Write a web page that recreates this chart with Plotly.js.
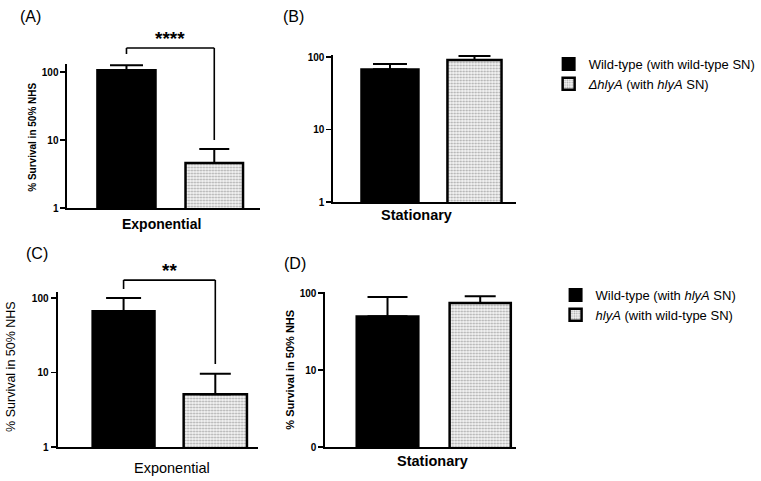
<!DOCTYPE html>
<html>
<head>
<meta charset="utf-8">
<script src="https://cdn.plot.ly/plotly-3.0.1.min.js"></script>
<style>html,body{margin:0;padding:0;background:#fff;}#chart{width:761px;height:481px;}</style>
</head>
<body>
<div id="chart"></div>
<script>
// ---- data ----
const panelLabels = ["(A)", "(B)", "(C)", "(D)"];
const phases = ["Exponential", "Stationary", "Exponential", "Stationary"];
const topGroups = ["Wild-type (with wild-type SN)", "<i>ΔhlyA</i> (with <i>hlyA</i> SN)"];
const bottomGroups = ["Wild-type (with <i>hlyA</i> SN)", "<i>hlyA</i> (with wild-type SN)"];
const solidMeans = [107, 68, 67, 50];
const solidErrTop = [126, 80, 100, 89];
const dottedMeans = [4.6, 91, 5.1, 74];
const dottedErrTop = [7.4, 103, 9.6, 91];
const sigLabels = ["****", "", "**", ""];
const bracketTop = [225, null, 174, null];
const bracketLeftEnd = [184, null, 132, null];
const bracketRightEnd = [10, null, 13, null];
const yTickVals = [1, 10, 100];
const yTickText = [["1", "10", "100"], ["1", "10", "100"], ["1", "10", "100"], ["0", "10", "100"]];
const yTitle = "% Survival in 50% NHS";

// ---- layout geometry (pixels) ----
const W = 761, H = 481;
const FONT = "Arial, 'Liberation Sans', sans-serif";
const geo = [
  {x0: 68, x1: 262, yTop: 64, yBot: 208, decade: 68, xr: [-0.672, 1.52], bw: [0.667, 0.655], cap: [16.5, 15]},
  {x0: 336, x1: 520, yTop: 55, yBot: 202, decade: 72.5, xr: [-0.67, 1.49], bw: [0.68, 0.64], cap: [17, 16]},
  {x0: 58, x1: 260, yTop: 292, yBot: 447, decade: 74.5, xr: [-0.72, 1.465], bw: [0.68, 0.69], cap: [17.5, 15.5]},
  {x0: 328, x1: 520, yTop: 292, yBot: 447, decade: 77, xr: [-0.67, 1.385], bw: [0.67, 0.66], cap: [20, 15.5]}
];
const px = x => x / W;
const py = y => 1 - y / H;

const traces = [];
const legendFont = {family: FONT, size: 13, color: "#000"};
const layout = {
  width: W, height: H,
  margin: {l: 0, r: 0, t: 0, b: 0},
  paper_bgcolor: "#fff", plot_bgcolor: "#fff",
  font: {family: FONT, color: "#000"},
  barmode: "overlay",
  shapes: [], annotations: [],
  legend: {x: px(553), y: py(49), xanchor: "left", yanchor: "top",
           font: legendFont, bgcolor: "rgba(0,0,0,0)", tracegroupgap: 0},
  legend2: {x: px(560), y: py(280), xanchor: "left", yanchor: "top",
            font: legendFont, bgcolor: "rgba(0,0,0,0)", tracegroupgap: 0}
};

const yRanges = [];
geo.forEach((g, i) => {
  const n = i === 0 ? "" : String(i + 1);
  const xa = "x" + n, ya = "y" + n;
  const yr = [0, (g.yBot - g.yTop) / g.decade];
  yRanges.push(yr);
  const names = i < 2 ? topGroups : bottomGroups;
  const legendId = i < 2 ? "legend" : "legend2";
  const showL = (i === 0 || i === 2);
  traces.push({
    type: "bar", x: [0], y: [solidMeans[i]], width: g.bw[0], name: names[0],
    xaxis: xa, yaxis: ya, legend: legendId, showlegend: showL,
    marker: {color: "#000", line: {color: "#000", width: 2}},
    error_y: {type: "data", symmetric: false, array: [solidErrTop[i] - solidMeans[i]], arrayminus: [0],
              color: "#000", thickness: 2, width: g.cap[0]},
    hoverinfo: "skip"
  });
  traces.push({
    type: "bar", x: [1], y: [dottedMeans[i]], width: g.bw[1], name: names[1],
    xaxis: xa, yaxis: ya, legend: legendId, showlegend: showL,
    marker: {color: "#f3f3f3", line: {color: "#000", width: 2.5},
             pattern: {shape: ".", bgcolor: "#f5f5f5", fgcolor: "#a8a8a8", size: 3, solidity: 0.35}},
    error_y: {type: "data", symmetric: false, array: [dottedErrTop[i] - dottedMeans[i]], arrayminus: [0],
              color: "#000", thickness: 2, width: g.cap[1]},
    hoverinfo: "skip"
  });
  layout["xaxis" + n] = {
    domain: [px(g.x0), px(g.x1)], range: g.xr, anchor: ya,
    showline: true, linecolor: "#000", linewidth: 2, showgrid: false, zeroline: false,
    showticklabels: false, ticks: "", fixedrange: true
  };
  layout["yaxis" + n] = {
    domain: [py(g.yBot), py(g.yTop)], type: "log", range: yr, anchor: xa,
    showline: true, linecolor: "#000", linewidth: 2, showgrid: false, zeroline: false,
    ticks: "outside", ticklen: 5, tickwidth: 1.5, tickcolor: "#000",
    tickvals: yTickVals, ticktext: yTickText[i],
    tickfont: {family: FONT, size: 10, weight: "bold", color: "#000"}, fixedrange: true
  };
});

// value -> paper y for a given panel
function vToPaper(i, v) {
  const g = geo[i], yr = yRanges[i];
  const f = (Math.log10(v) - yr[0]) / (yr[1] - yr[0]);
  return py(g.yBot) + f * (py(g.yTop) - py(g.yBot));
}

// significance brackets
for (let i = 0; i < 4; i++) {
  if (!sigLabels[i]) continue;
  const xa = i === 0 ? "x" : "x" + (i + 1);
  const yt = vToPaper(i, bracketTop[i]);
  const line = {color: "#000", width: 1.6};
  layout.shapes.push({type: "line", xref: xa, yref: "paper", x0: 0, x1: 1, y0: yt, y1: yt, line});
  layout.shapes.push({type: "line", xref: xa, yref: "paper", x0: 0, x1: 0, y0: yt, y1: vToPaper(i, bracketLeftEnd[i]), line});
  layout.shapes.push({type: "line", xref: xa, yref: "paper", x0: 1, x1: 1, y0: yt, y1: vToPaper(i, bracketRightEnd[i]), line});
  layout.annotations.push({xref: xa, yref: "paper", x: 0.5, y: yt, yanchor: "bottom", xanchor: "center",
    yshift: -3, text: sigLabels[i], showarrow: false,
    font: {family: FONT, size: 19, weight: "bold", color: "#000"}});
}

// panel labels
const labelPos = [[31, 17], [296, 17], [37, 253], [297, 263]];
panelLabels.forEach((t, i) => layout.annotations.push({
  xref: "paper", yref: "paper", x: px(labelPos[i][0]), y: py(labelPos[i][1]),
  xanchor: "center", yanchor: "middle", text: t, showarrow: false,
  font: {family: FONT, size: 16, color: "#000"}
}));

// phase labels (x titles)
const phasePos = [[163, 224, 14, "bold"], [420, 215, 14.5, "bold"], [173, 468, 14.5, "normal"], [436, 461, 14.5, "bold"]];
phases.forEach((t, i) => layout.annotations.push({
  xref: "paper", yref: "paper", x: px(phasePos[i][0]), y: py(phasePos[i][1]),
  xanchor: "center", yanchor: "middle", text: t, showarrow: false,
  font: {family: FONT, size: phasePos[i][2], weight: phasePos[i][3], color: "#000"}
}));

// y-axis titles (panel B has none)
const yTitlePos = [[33, 137, 10, "bold"], null, [11, 366, 12.5, "normal"], [292, 370, 11, "bold"]];
yTitlePos.forEach(p => {
  if (!p) return;
  layout.annotations.push({
    xref: "paper", yref: "paper", x: px(p[0]), y: py(p[1]),
    xanchor: "center", yanchor: "middle", textangle: -90, text: yTitle, showarrow: false,
    font: {family: FONT, size: p[2], weight: p[3], color: "#000"}
  });
});

Plotly.newPlot("chart", traces, layout, {staticPlot: true, displayModeBar: false});
</script>
</body>
</html>
